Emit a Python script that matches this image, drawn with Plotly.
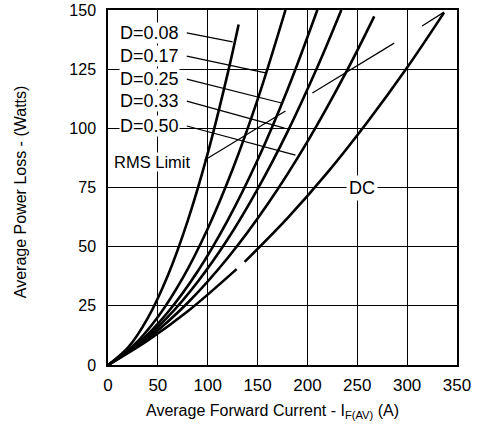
import plotly.graph_objects as go

# ---- data ----
current_d008 = [0, 20, 40, 60, 80, 100, 120, 131]
loss_d008 = [0, 7.3, 19.9, 37.8, 61.0, 89.4, 123.1, 143.9]

current_d017 = [0, 25, 50, 75, 100, 125, 150, 178]
loss_d017 = [0, 8.0, 20.3, 36.8, 57.6, 82.7, 112.1, 150.0]

current_d025 = [0, 30, 60, 90, 120, 150, 180, 210]
loss_d025 = [0, 9.1, 22.3, 39.6, 61.1, 86.6, 116.3, 150.1]

current_d033 = [0, 30, 60, 90, 120, 150, 180, 210, 234]
loss_d033 = [0, 8.6, 20.3, 35.2, 53.1, 74.3, 98.5, 125.9, 150.0]

current_d050 = [0, 40, 80, 120, 160, 200, 240, 267]
loss_d050 = [0, 11.3, 26.3, 45.2, 67.9, 94.4, 124.7, 147.3]

current_dc = [0, 40, 80, 129, None, 137, 180, 220, 260, 300, 337]
loss_dc = [0, 10.4, 22.7, 40.5, None, 43.6, 62.1, 81.3, 102.6, 125.7, 148.9]

rms_limit_current = [97, 178, None, 205, 287, None, 315, 337]
rms_limit_loss = [86.6, 107.3, None, 114.9, 136.0, None, 143.2, 149.1]

duty_labels = ["D=0.08", "D=0.17", "D=0.25", "D=0.33", "D=0.50"]
label_current = [11, 11, 11, 11, 11]
label_loss = [140.3, 130.5, 120.8, 111.5, 101.0]
leader_start_current = [79, 79, 79, 79, 79]
leader_end_current = [125, 158, 174, 177, 188]
leader_end_loss = [136.5, 123.4, 110.7, 100.1, 88.7]

x_ticks = [0, 50, 100, 150, 200, 250, 300, 350]
y_ticks = [0, 25, 50, 75, 100, 125, 150]

FONT = "Liberation Sans, Arial, sans-serif"

fig = go.Figure()

curves = [
    (current_d008, loss_d008),
    (current_d017, loss_d017),
    (current_d025, loss_d025),
    (current_d033, loss_d033),
    (current_d050, loss_d050),
    (current_dc, loss_dc),
]
for xs, ys in curves:
    fig.add_trace(go.Scatter(x=xs, y=ys, mode="lines",
                             line=dict(color="black", width=2.6, shape="spline"),
                             connectgaps=False, showlegend=False, hoverinfo="skip"))

# RMS limit line
fig.add_trace(go.Scatter(x=rms_limit_current, y=rms_limit_loss, mode="lines",
                         line=dict(color="black", width=1.2),
                         connectgaps=False, showlegend=False, hoverinfo="skip"))

# leader lines
for i in range(len(duty_labels)):
    fig.add_trace(go.Scatter(x=[leader_start_current[i], leader_end_current[i]],
                             y=[label_loss[i], leader_end_loss[i]], mode="lines",
                             line=dict(color="black", width=1.2),
                             showlegend=False, hoverinfo="skip"))

# labels
for i, t in enumerate(duty_labels):
    fig.add_annotation(x=label_current[i], y=label_loss[i], text=t, showarrow=False,
                       xanchor="left", yanchor="middle", bgcolor="white", borderpad=0,
                       font=dict(family=FONT, size=18, color="black"))
fig.add_annotation(x=5, y=85.8, text="RMS Limit", showarrow=False,
                   xanchor="left", yanchor="middle", bgcolor="white", borderpad=0,
                   font=dict(family=FONT, size=16.5, color="black"))
fig.add_annotation(x=255, y=75, text="DC", showarrow=False,
                   xanchor="center", yanchor="middle", bgcolor="white", borderpad=2,
                   font=dict(family=FONT, size=18, color="black"))

# axis titles
fig.add_annotation(xref="paper", yref="paper", x=0.47, y=-0.132,
                   text="Average Forward Current - I<sub>F(AV)</sub> (A)", showarrow=False,
                   xanchor="center", yanchor="middle",
                   font=dict(family=FONT, size=16, color="black"))
fig.add_annotation(xref="paper", yref="paper", x=-0.252, y=0.487,
                   text="Average Power Loss - (Watts)", showarrow=False, textangle=-90,
                   xanchor="center", yanchor="middle",
                   font=dict(family=FONT, size=16, color="black"))

fig.update_xaxes(range=[0, 350], tickvals=x_ticks, ticktext=[str(v) for v in x_ticks],
                 showgrid=True, gridcolor="black", gridwidth=1.3,
                 showline=True, linecolor="black", linewidth=1.5, mirror=True,
                 zeroline=False, ticks="", ticklabelstandoff=4, automargin=False,
                 tickfont=dict(family=FONT, size=17, color="black"))
fig.update_yaxes(range=[0, 150], tickvals=y_ticks, ticktext=[str(v) for v in y_ticks],
                 showgrid=True, gridcolor="black", gridwidth=1.3,
                 showline=True, linecolor="black", linewidth=1.5, mirror=True,
                 zeroline=False, ticks="", ticklabelstandoff=7, automargin=False,
                 tickfont=dict(family=FONT, size=16, color="black"))

fig.update_layout(width=480, height=437, margin=dict(l=108, r=23, t=10, b=72),
                  paper_bgcolor="white", plot_bgcolor="white", showlegend=False)

fig.write_html("out.html", config={"displayModeBar": False},
               post_script="document.body.style.margin='0';document.body.style.overflow='hidden';")
